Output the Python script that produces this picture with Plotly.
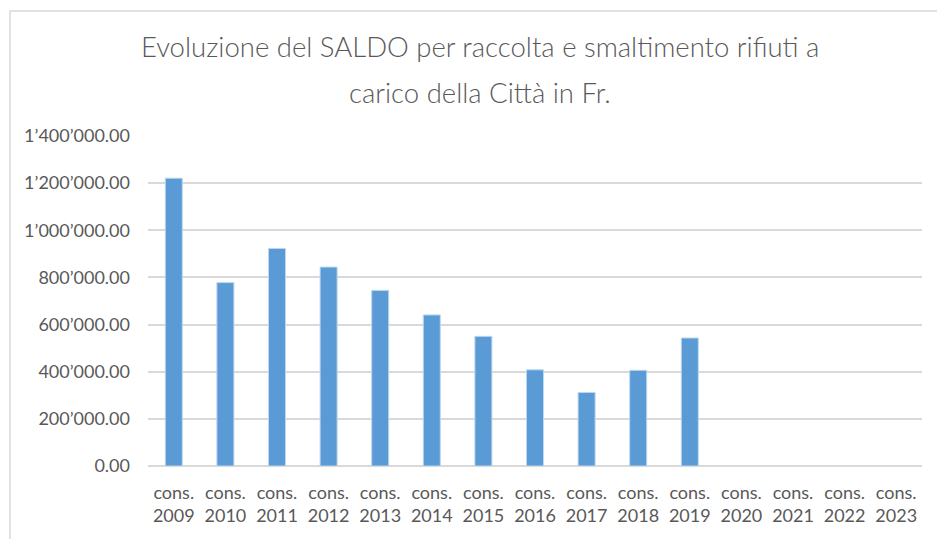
import plotly.graph_objects as go

categories = ["cons.<br>2009", "cons.<br>2010", "cons.<br>2011", "cons.<br>2012", "cons.<br>2013",
              "cons.<br>2014", "cons.<br>2015", "cons.<br>2016", "cons.<br>2017", "cons.<br>2018",
              "cons.<br>2019", "cons.<br>2020", "cons.<br>2021", "cons.<br>2022", "cons.<br>2023"]
saldo = [1221000, 778000, 923000, 844000, 745000, 641000, 550000, 408000, 312000, 406000,
         543000, None, None, None, None]
y_tick_values = [0, 200000, 400000, 600000, 800000, 1000000, 1200000, 1400000]
y_tick_labels = ["0.00", "200\u2019000.00", "400\u2019000.00", "600\u2019000.00", "800\u2019000.00",
                 "1\u2019000\u2019000.00", "1\u2019200\u2019000.00", "1\u2019400\u2019000.00"]
title_lines = ["Evoluzione del SALDO per raccolta e smaltimento rifiuti a",
               "carico della Città in Fr."]

W, H = 937, 539
L, R, T, B = 148, 15, 136, 73
pw, ph = W - L - R, H - T - B

fig = go.Figure(go.Bar(
    x=categories, y=saldo,
    marker=dict(color="#5B9BD5", line=dict(color="#BDD7EE", width=1)),
))

def px_x(x):
    return (x - L) / pw

def px_y(y):
    return (H - B - y) / ph

title_y_px = [47, 92]
annotations = [dict(text=t, xref="paper", yref="paper", x=px_x(480), y=px_y(yy),
                    xanchor="center", yanchor="middle", showarrow=False,
                    font=dict(size=27.5, color="#595959", weight=300))
               for t, yy in zip(title_lines, title_y_px)]

fig.update_layout(
    width=W, height=H,
    margin=dict(l=L, r=R, t=T, b=B),
    paper_bgcolor="white", plot_bgcolor="white",
    font=dict(family="Lato, 'Open Sans', sans-serif", color="#595959", size=17),
    annotations=annotations,
    bargap=0.67,
    showlegend=False,
    xaxis=dict(showgrid=False, showline=False, ticks="", tickfont=dict(size=18),
               ticklabelstandoff=14),
    yaxis=dict(range=[0, 1400000], tickvals=y_tick_values, ticktext=y_tick_labels,
               showgrid=True, gridcolor="#D9D9D9", gridwidth=1.5, zeroline=True,
               zerolinecolor="#D9D9D9", zerolinewidth=1.5, showline=False, ticks="",
               ticklabelstandoff=17, tickfont=dict(size=18)),
    shapes=[dict(type="rect", xref="paper", yref="paper",
                 x0=px_x(10), x1=px_x(960), y0=px_y(560), y1=px_y(11),
                 line=dict(color="#D9D9D9", width=1.5), fillcolor="rgba(0,0,0,0)", layer="below")],
)

fig.write_html("out.html", config={"displayModeBar": False},
               post_script="document.body.style.margin='0';document.body.style.overflow='hidden';")
